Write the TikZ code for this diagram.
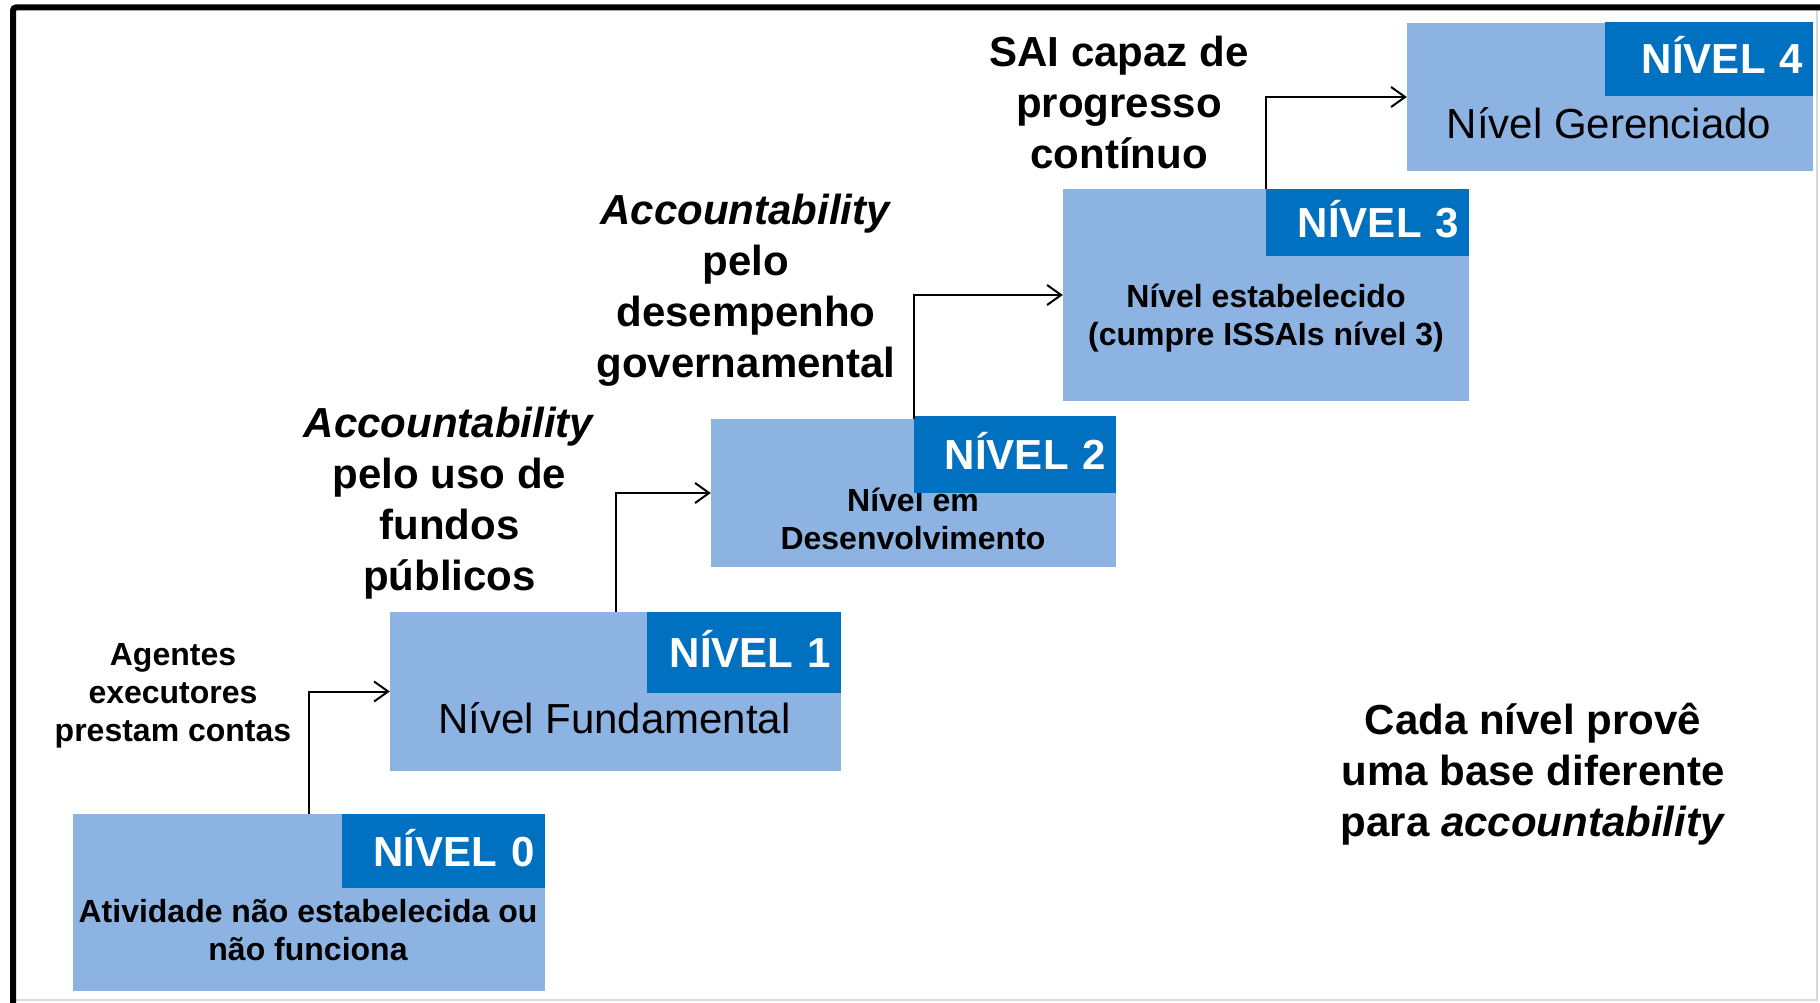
\documentclass[tikz,border=0pt]{standalone}
\usepackage{fontspec}
\setmainfont{Liberation Sans}
\usetikzlibrary{arrows.meta}
\definecolor{nivelclaro}{HTML}{8DB3E2}
\definecolor{nivelescuro}{HTML}{0070C0}
\newcommand{\fontegrande}{\fontsize{42}{51}\selectfont\bfseries}
\newcommand{\fontemedia}{\fontsize{32}{38}\selectfont\bfseries}
\newcommand{\fontecaixa}{\fontsize{42}{51}\selectfont}

\begin{document}
\begin{tikzpicture}[x=1pt,y=-1pt,
	degrau/.style={rectangle, fill=nivelclaro, inner sep=0pt},
	cabeca/.style={rectangle, fill=nivelescuro, text=white, font=\fontegrande, align=right,
		inner xsep=10pt, inner ysep=0pt, text height=30pt, text depth=0pt, anchor=north east},
	rotulo/.style={align=center, font=\fontegrande, inner sep=0pt},
	texto/.style={align=center, font=\fontemedia, inner sep=0pt},
	passo/.style={line width=2pt, -{Straight Barb[length=14pt,width=20pt]}},
	moldura/.style={line width=6pt, rounded corners=3pt}]
	\useasboundingbox (0,0) rectangle (1820,1003);

	% moldura
	\draw[gray!30, line width=2pt] (13,1000) -| (1817,7.5);
	\draw[moldura] (13,1003) |- (1820,7.5);

	% degraus
	\node[degrau, minimum width=472pt, minimum height=177pt] (n0) at (308.6,902.5) {};
	\node[degrau, minimum width=451pt, minimum height=159pt] (n1) at (615.5,691.5) {};
	\node[degrau, minimum width=405pt, minimum height=148pt] (n2) at (913.5,493) {};
	\node[degrau, minimum width=406pt, minimum height=212pt] (n3) at (1266,295) {};
	\node[degrau, minimum width=406pt, minimum height=148pt] (n4) at (1610,97) {};

	\node[texto] (t0) at (308,930) {Atividade não estabelecida ou\\não funciona};
	\node[anchor=base, font=\fontecaixa, inner sep=0pt] (t1) at (614.5,733) {Nível Fundamental};
	\node[texto] (t2) at (913,518.5) {Nível em\\Desenvolvimento};
	\node[texto] (t3) at (1266,318) {Nível estabelecido\\(cumpre ISSAIs nível 3)};
	\node[anchor=base, font=\fontecaixa, inner sep=0pt] (t4) at (1609,139) {Nível Gerenciado};

	% cabecalhos
	\node[cabeca, text width=182.6pt, minimum height=74pt] (h0) at (n0.north east) {NÍVEL 0};
	\node[cabeca, text width=174pt, minimum height=81pt] (h1) at (n1.north east) {NÍVEL 1};
	\node[cabeca, text width=182pt, minimum height=77pt, yshift=3pt] (h2) at (n2.north east) {NÍVEL 2};
	\node[cabeca, text width=183pt, minimum height=67pt] (h3) at (n3.north east) {NÍVEL 3};
	\node[cabeca, text width=188pt, minimum height=74pt, yshift=1pt] (h4) at (n4.north east) {NÍVEL 4};

	\draw[passo] (n0.north) |- (n1.west);
	\draw[passo] (n1.north) |- (n2.west);
	\draw[passo] (n2.north) |- (n3.west);
	\draw[passo] (n3.north) |- (n4.west);

	% rotulos
	\node[texto] (l0) at (173,695.5) {Agentes\\executores\\prestam contas};
	\node[rotulo] (l1) at (449.5,503) {\textit{Accountability}\\pelo uso de\\fundos\\públicos};
	\node[rotulo] (l2) at (746,290) {\textit{Accountability}\\pelo\\desempenho\\governamental};
	\node[rotulo] (l3) at (1119,102) {SAI capaz de\\progresso\\contínuo};
	\node[rotulo] (l4) at (1533,774.5) {Cada nível provê\\uma base diferente\\para \textit{accountability}};
\end{tikzpicture}
\end{document}
